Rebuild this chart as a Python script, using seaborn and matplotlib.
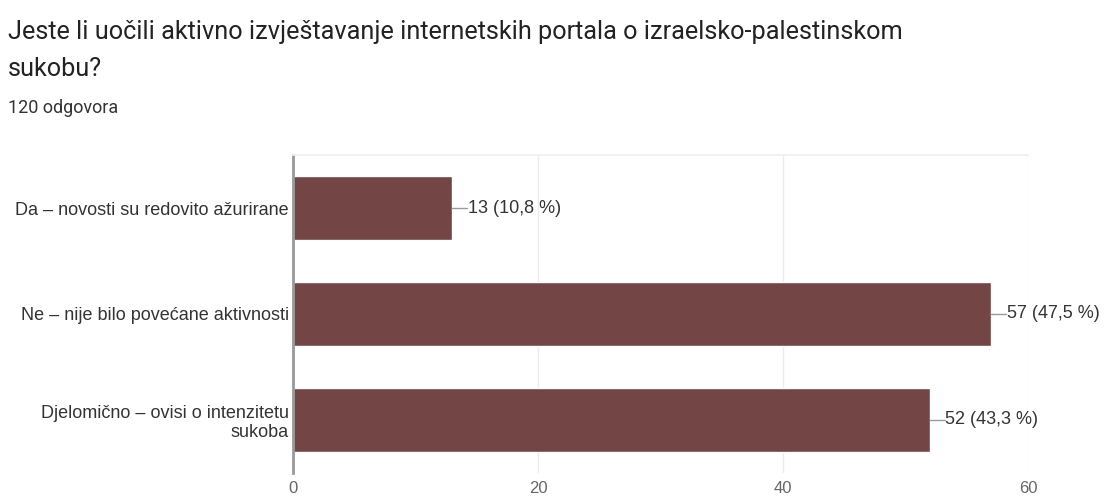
import matplotlib
matplotlib.use('Agg')
import matplotlib.pyplot as plt
import seaborn as sns
import pandas as pd

categories = [
    "Da – novosti su redovito ažurirane",
    "Ne – nije bilo povećane aktivnosti",
    "Djelomično – ovisi o intenzitetu\nsukoba",
]
counts = [13, 57, 52]
percents = ["10,8", "47,5", "43,3"]
x_ticks = [0, 20, 40, 60]

title = "Jeste li uočili aktivno izvještavanje internetskih portala o izraelsko-palestinskom\nsukobu?"
subtitle = "120 odgovora"

bar_color = "#744545"

df = pd.DataFrame({"category": categories, "count": counts})

sns.set_theme(style="white")
plt.rcParams['font.family'] = ['Liberation Sans', 'DejaVu Sans']

fig = plt.figure(figsize=(11.04, 4.99), dpi=100)
ax = fig.add_axes([0.2654, 0.053, 0.6658, 0.636])

sns.barplot(data=df, x="count", y="category", color=bar_color, width=0.605,
            saturation=1, ax=ax, orient="h")

ax.set_xlim(0, 60)
ax.set_ylim(2.5, -0.5)
ax.set_xticks(x_ticks)
ax.set_xticklabels([str(t) for t in x_ticks], color="#666666", fontsize=12)
ax.xaxis.grid(True, color="#ececec", linewidth=1)
ax.set_axisbelow(True)
ax.set_xlabel("")
ax.set_ylabel("")
ax.tick_params(axis="x", length=0, pad=6)
ax.tick_params(axis="y", length=0, pad=3)
for lbl in ax.get_yticklabels():
    lbl.set_color("#333333")
    lbl.set_fontsize(13)
    lbl.set_horizontalalignment("right")
    lbl.set_multialignment("right")

for side in ["right", "bottom"]:
    ax.spines[side].set_visible(False)
ax.spines["top"].set_color("#f0f0f0")
ax.spines["left"].set_color("#999999")
ax.spines["left"].set_linewidth(2)

# value labels with small leader lines
for i, (c, p) in enumerate(zip(counts, percents)):
    ax.plot([c, c + 1.2], [i, i], color="#999999", linewidth=1)
    ax.text(c + 1.25, i, f"{c} ({p} %)", va="center", ha="left",
            fontsize=13, color="#333333")

fig.text(0.007, 0.96, title, fontsize=18.2, color="#222222", va="top",
         ha="left", family=['Roboto', 'DejaVu Sans'], linespacing=1.7)
fig.text(0.007, 0.783, subtitle, fontsize=13, color="#333333", va="center",
         ha="left", family=['Roboto', 'DejaVu Sans'])

fig.savefig("out.png", dpi=100)
